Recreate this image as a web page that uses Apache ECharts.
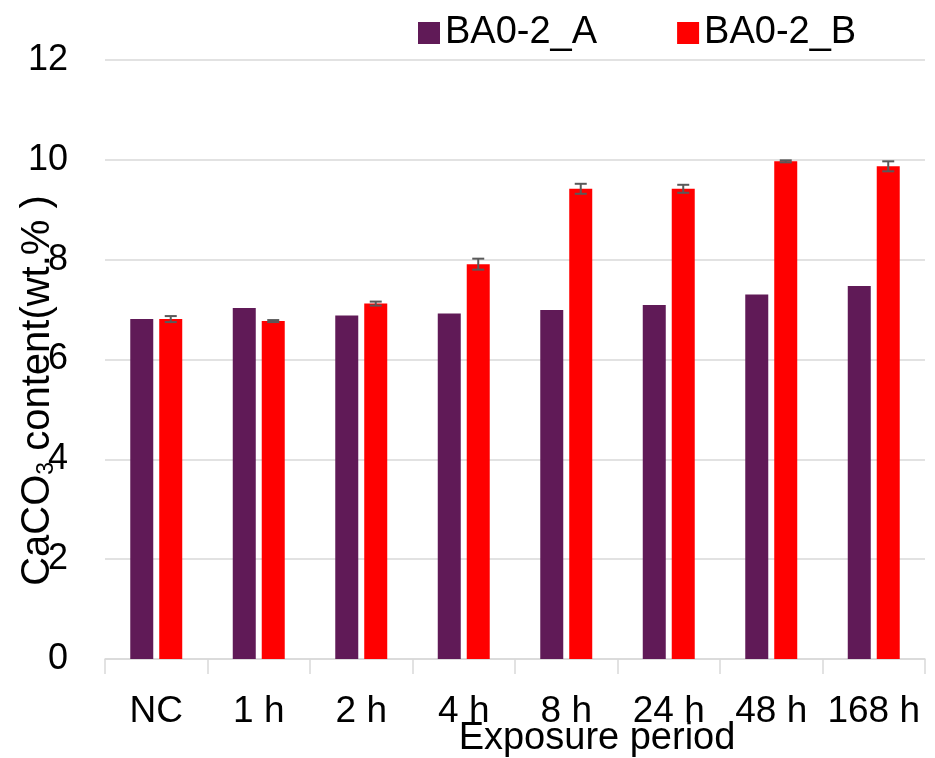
<!DOCTYPE html>
<html>
<head>
<meta charset="utf-8">
<script src="https://cdn.jsdelivr.net/npm/echarts@6/dist/echarts.min.js"></script>
<style>
  html, body { margin: 0; padding: 0; background: #fff; }
  #chart { width: 935px; height: 758px; }
</style>
</head>
<body>
<div id="chart"></div>
<script>
var categories = ['NC', '1 h', '2 h', '4 h', '8 h', '24 h', '48 h', '168 h'];
var valuesA = [6.81, 7.03, 6.88, 6.92, 6.99, 7.09, 7.30, 7.47];
var valuesB = [6.81, 6.77, 7.12, 7.91, 9.42, 9.42, 9.97, 9.87];
var errorsB = [0.06, 0.02, 0.04, 0.11, 0.10, 0.08, 0.02, 0.10];

var FONT = 'Liberation Sans';
var FS = 36;
var barW = 23;
var gapPct = 26;

// error bar data: [category index, value, error]
var errData = [];
valuesB.forEach(function (v, i) {
    errData.push([i, v, errorsB[i]]);
});

var chart = echarts.init(document.getElementById('chart'));
var option = {
    animation: false,
    textStyle: { fontFamily: FONT },
    grid: { left: 105, right: 10, top: 60, bottom: 99, outerBoundsMode: 'none' },
    legend: {
        top: 9,
        left: 413,
        itemWidth: 22,
        itemHeight: 22,
        itemGap: 80,
        icon: 'rect',
        data: ['BA0-2_A', 'BA0-2_B'],
        textStyle: { fontSize: 38, color: '#000', fontFamily: FONT }
    },
    xAxis: {
        type: 'category',
        data: categories,
        name: 'Exposure period',
        nameLocation: 'middle',
        nameGap: 61,
        nameMoveOverlap: false,
        nameTextStyle: { fontSize: 38, color: '#000', fontFamily: FONT, padding: [0, 0, 0, 164] },
        axisLine: { lineStyle: { color: '#d9d9d9', width: 1.5 } },
        axisTick: { show: true, length: 15, lineStyle: { color: '#d9d9d9', width: 1.5 } },
        axisLabel: { fontSize: 37, color: '#000', margin: 34, interval: 0, fontFamily: FONT }
    },
    yAxis: {
        type: 'value',
        min: 0,
        max: 12,
        interval: 2,
        name: 'CaCO{sub|3} content(wt.% )',
        nameLocation: 'middle',
        nameRotate: 90,
        nameGap: 47,
        nameMoveOverlap: false,
        nameTextStyle: {
            fontSize: 40, color: '#000', fontFamily: FONT, padding: [0, 62, 0, 0],
            rich: { sub: { fontSize: 23, fontFamily: FONT, verticalAlign: 'bottom', padding: [17, 0, 0, 0] } }
        },
        axisLine: { show: false },
        axisTick: { show: false },
        axisLabel: { fontSize: FS, color: '#000', margin: 37, fontFamily: FONT },
        splitLine: { lineStyle: { color: '#d9d9d9', width: 1.5 } }
    },
    series: [
        {
            name: 'BA0-2_A',
            type: 'bar',
            data: valuesA,
            barWidth: barW,
            barGap: gapPct + '%',
            itemStyle: { color: '#601a57' }
        },
        {
            name: 'BA0-2_B',
            type: 'bar',
            data: valuesB,
            barWidth: barW,
            barGap: gapPct + '%',
            itemStyle: { color: '#ff0000' }
        },
        {
            type: 'custom',
            name: 'errB',
            data: errData,
            z: 10,
            renderItem: function (params, api) {
                var i = api.value(0);
                var v = api.value(1);
                var e = api.value(2);
                var off = (barW + barW * gapPct / 100) / 2;
                var hi = api.coord([i, v + e]);
                var lo = api.coord([i, v - e]);
                var x = hi[0] + off;
                var cap = 6;
                var st = { stroke: '#595959', lineWidth: 2 };
                return {
                    type: 'group',
                    children: [
                        { type: 'line', shape: { x1: x, y1: hi[1], x2: x, y2: lo[1] }, style: st },
                        { type: 'line', shape: { x1: x - cap, y1: hi[1], x2: x + cap, y2: hi[1] }, style: st },
                        { type: 'line', shape: { x1: x - cap, y1: lo[1], x2: x + cap, y2: lo[1] }, style: st }
                    ]
                };
            }
        }
    ]
};
chart.setOption(option);
</script>
</body>
</html>
